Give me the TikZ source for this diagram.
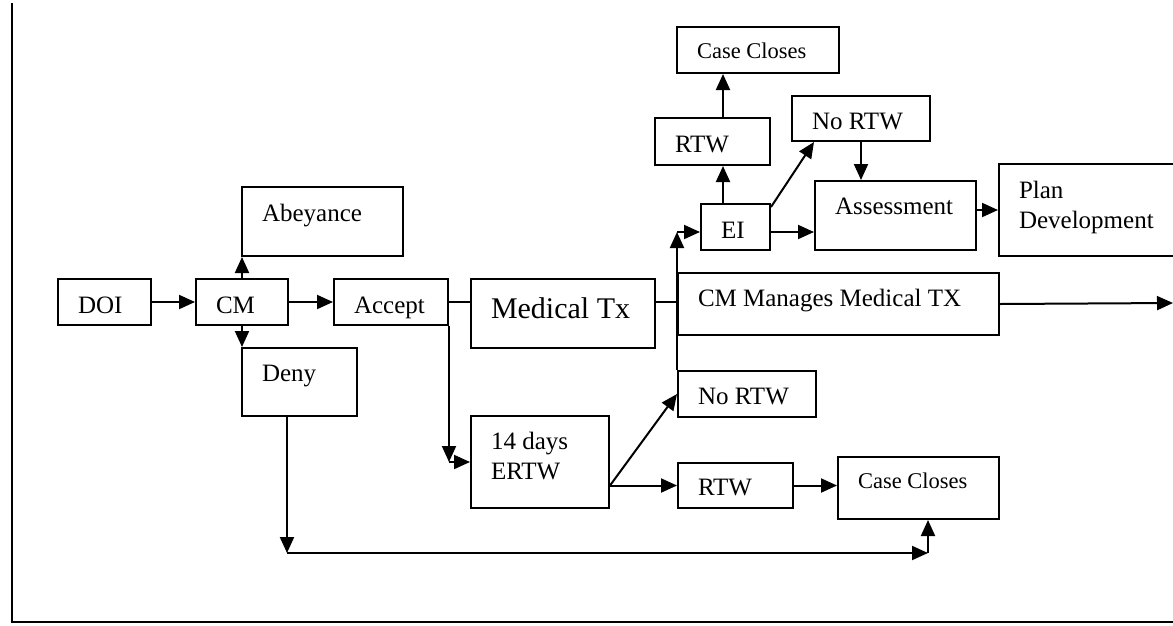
\documentclass[tikz,border=0pt]{standalone}
\usepackage{fontspec}
\setmainfont{Liberation Serif}
\usetikzlibrary{arrows.meta,calc}
\newcommand{\nf}{\fontsize{25}{30}\selectfont}
\newcommand{\smf}{\fontsize{22.5}{27}\selectfont}
\newcommand{\bigf}{\fontsize{30}{36}\selectfont}
\newcommand{\bxt}[5]{\parbox[t][#2pt][t]{#1pt}{#3\vspace*{\dimexpr#4pt-\ht\strutbox\relax}\leftskip=20pt\relax\parindent=0pt\rightskip=0pt plus 1fil\strut#5}}
\begin{document}
\begin{tikzpicture}[x=1pt,y=-1pt,
  box/.style={draw,line width=2pt,inner sep=0pt,anchor=north west},
  arr/.style={line width=2pt,-{Triangle[length=16pt,width=14pt]}},
  ln/.style={line width=2pt}]
\useasboundingbox (0,0) rectangle (1173,625);
\clip (0,0) rectangle (1173,625);
% boxes
\node[box] (DOI) at (57,278) {\bxt{93}{46}{\nf}{34}{DOI}};
\node[box] (CM) at (195,278) {\bxt{92}{46}{\nf}{34}{CM}};
\node[box] (Accept) at (333,278) {\bxt{114}{46}{\nf}{34}{Accept}};
\node[box] (Abey) at (241,186) {\bxt{161}{69}{\nf}{34}{Abeyance}};
\node[box] (Deny) at (241,347) {\bxt{115}{68}{\nf}{33}{Deny}};
\node[box] (MedTx) at (470,278) {\bxt{184}{69}{\bigf}{39}{Medical Tx}};
\node[box] (CMM) at (677,272) {\bxt{321}{62}{\nf}{33}{CM Manages Medical TX}};
\node[box] (NoRTW1) at (677,370) {\bxt{138}{46}{\nf}{33}{No RTW}};
\node[box] (Days) at (470,415) {\bxt{138}{92}{\nf}{33}{14 days\\ERTW}};
\node[box] (RTW2) at (677,462) {\bxt{115}{45}{\nf}{32}{RTW}};
\node[box] (CaseCl2) at (837,456) {\bxt{161}{62}{\smf}{31}{Case Closes}};
\node[box] (CaseCl1) at (676,26) {\bxt{162}{46}{\smf}{31}{Case Closes}};
\node[box] (RTW1) at (654,117) {\bxt{115}{47}{\nf}{34}{RTW}};
\node[box] (NoRTW2) at (791,95) {\bxt{138}{45}{\nf}{33}{No RTW}};
\node[box] (EI) at (700,203) {\bxt{69}{46}{\nf}{34}{EI}};
\node[box] (Assess) at (814,180) {\bxt{161}{69}{\nf}{33}{Assessment}};
\node[box] (Plan) at (998,163) {\bxt{190}{92}{\nf}{34}{Plan\\Development}};
% junctions
\coordinate (j1) at (NoRTW1.north west |- 0,232);
\coordinate (j2) at (287,553);
\coordinate (j3) at (928,553);
\coordinate (j4) at (Accept.south east |- 0,462);
\coordinate (e1) at (1173,303);
\coordinate (f0) at (12,3);
\coordinate (f1) at (12,622);
\coordinate (f2) at (1173,622);
% connectors
\draw[arr] (DOI.east) -- (CM.west);
\draw[arr] (CM.east) -- (Accept.west);
\draw[arr] (CM.north) -- (CM.north |- Abey.south);
\draw[arr] (CM.south) -- (CM.south |- Deny.north);
\draw[ln] (Accept.east) -- (Accept.east -| MedTx.west);
\draw[ln] (Accept.east -| MedTx.east) -- (Accept.east -| CMM.west);
\draw[arr] (Accept.south east) -- (j4);
\draw[arr] (j4) -- (j4 -| Days.west);
\draw[arr] (NoRTW1.north west) -- (j1);
\draw[arr] (j1) -- (j1 -| EI.west);
\draw[arr] (j1 -| EI.east) -- (j1 -| Assess.west);
\draw[arr] (Assess.east |- Plan.west) -- (Plan.west);
\draw[arr] ($(EI.north west)+(23,0)$) -- ($(RTW1.south west)+(69,0)$);
\draw[arr] ($(RTW1.north west)+(69,0)$) -- ($(CaseCl1.south west)+(47,0)$);
\draw[arr] ($(EI.north east)+(0,4)$) -- ($(NoRTW2.south west)+(23,0)$);
\draw[arr] (NoRTW2.south) -- (NoRTW2.south |- Assess.north);
\draw[arr] (CMM.east) -- (e1);
\coordinate (s1) at (Days.east |- RTW2.west);
\draw[arr] (s1) -- (NoRTW1.west);
\draw[arr] (s1) -- (RTW2.west);
\draw[arr] (RTW2.east) -- (RTW2.east -| CaseCl2.west);
\draw[arr] (Deny.south -| j2) -- (j2);
\draw[arr] (j2) -- (j3);
\draw[arr] (j3) -- (j3 |- CaseCl2.south);
\draw[ln] (f0) -- (f1) -- (f2);
\end{tikzpicture}
\end{document}
